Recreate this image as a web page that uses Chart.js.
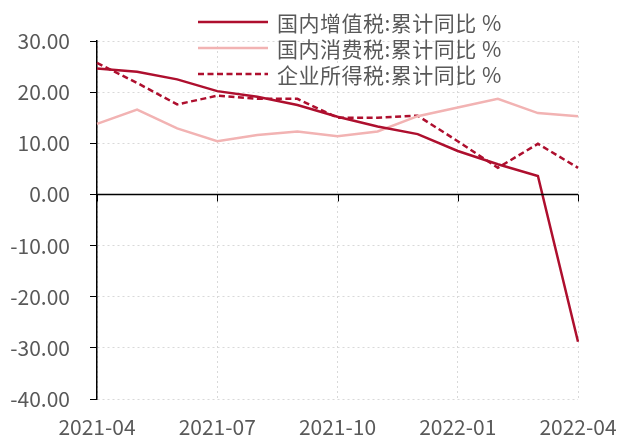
<!DOCTYPE html>
<html>
<head>
<meta charset="utf-8">
<script src="https://cdn.jsdelivr.net/npm/chart.js@4.4.0/dist/chart.umd.min.js"></script>
<style>
  html, body { margin: 0; padding: 0; background: #fff; overflow: hidden; }
  #wrap { position: relative; width: 619px; height: 439px; }
  #legend { position: absolute; left: 0; top: 0; width: 619px; height: 100px; pointer-events: none; }
  .lg { position: absolute; left: 198px; height: 26px; display: flex; align-items: center;
        font-family: "Noto Sans CJK SC", sans-serif; font-size: 21px; letter-spacing: 0.5px; color: #595959; white-space: nowrap; }
  .lg svg { margin-right: 9px; }
</style>
</head>
<body>
<div id="wrap">
  <canvas id="c" width="619" height="439"></canvas>
  <div id="legend"></div>
</div>
<script>
const categories = ['2021-04','2021-05','2021-06','2021-07','2021-08','2021-09','2021-10','2021-11','2021-12','2022-01','2022-02','2022-03','2022-04'];
const seriesNames = ['国内增值税:累计同比 %', '国内消费税:累计同比 %', '企业所得税:累计同比 %'];
const vatValues = [24.6, 24.0, 22.5, 20.2, 19.1, 17.5, 15.2, 13.3, 11.8, 8.5, 5.9, 3.6, -28.8];
const consumptionValues = [13.8, 16.6, 12.9, 10.4, 11.6, 12.3, 11.4, 12.3, 15.3, 17.0, 18.7, 15.9, 15.3];
const corporateValues = [25.7, 21.8, 17.6, 19.3, 18.7, 18.7, 15.0, 15.0, 15.4, 10.4, 5.2, 9.9, 5.2];
const yTicks = [30, 20, 10, 0, -10, -20, -30, -40];

const darkRed = '#AE0F2E';
const pink = '#F2B3B3';
const styles = [
  { color: darkRed, width: 2.5, dash: [] },
  { color: pink, width: 2.5, dash: [] },
  { color: darkRed, width: 2.5, dash: [6, 3.5] }
];
const seriesValues = [vatValues, consumptionValues, corporateValues];

const FONT = '"Noto Sans CJK SC", sans-serif';

const zeroLinePlugin = {
  id: 'zeroLine',
  afterDatasetsDraw(chart) {
    const { ctx, chartArea, scales } = chart;
    const y0 = scales.y.getPixelForValue(0);
    ctx.save();
    ctx.strokeStyle = '#000';
    ctx.lineWidth = 1.5;
    ctx.beginPath();
    ctx.moveTo(chartArea.left, y0);
    ctx.lineTo(chartArea.right, y0);
    ctx.stroke();
    ctx.lineWidth = 1;
    for (let i = 0; i < categories.length; i += 3) {
      const x = Math.round(scales.x.getPixelForValue(i)) + 0.5;
      ctx.beginPath();
      ctx.moveTo(x, y0);
      ctx.lineTo(x, y0 + 7);
      ctx.stroke();
    }
    ctx.restore();
  }
};

new Chart(document.getElementById('c'), {
  type: 'line',
  data: {
    labels: categories,
    datasets: seriesNames.map((name, k) => ({
      label: name,
      data: seriesValues[k],
      borderColor: styles[k].color,
      borderWidth: styles[k].width,
      borderDash: styles[k].dash,
      pointRadius: 0,
      tension: 0,
      fill: false
    }))
  },
  options: {
    responsive: false,
    animation: false,
    events: [],
    layout: { padding: { left: 0, right: 41, top: 41, bottom: 0 } },
    plugins: { legend: { display: false }, tooltip: { enabled: false } },
    scales: {
      x: {
        type: 'category',
        offset: false,
        afterFit(scale) { scale.height = 40; scale.paddingRight = 0; scale.paddingLeft = 0; },
        border: { display: false, dash: [2, 3] },
        grid: {
          drawTicks: false,
          color: (c) => (c.index % 3 === 0 ? '#D9D9D9' : 'rgba(0,0,0,0)'),
          lineWidth: 1
        },
        ticks: {
          autoSkip: false,
          maxRotation: 0,
          padding: 15,
          color: '#595959',
          font: { family: FONT, size: 21 },
          callback: function (v, i) { return i % 3 === 0 ? categories[i] : ''; }
        }
      },
      y: {
        min: -40,
        max: 30,
        afterFit(scale) { scale.width = 97; scale.paddingTop = 0; scale.paddingBottom = 0; },
        afterBuildTicks(scale) { scale.ticks = yTicks.map(v => ({ value: v })); },
        border: { display: true, color: '#000', width: 1.5, dash: [2, 3] },
        grid: {
          color: '#D9D9D9',
          lineWidth: 1,
          tickColor: '#000',
          tickLength: 7,
          tickBorderDash: []
        },
        ticks: {
          padding: 20,
          color: '#595959',
          font: { family: FONT, size: 21 },
          callback: (v) => Number(v).toFixed(2)
        }
      }
    }
  },
  plugins: [zeroLinePlugin]
});

// HTML legend built from the series definitions
const legend = document.getElementById('legend');
const rowTops = [9, 35, 61];
seriesNames.forEach((name, k) => {
  const row = document.createElement('div');
  row.className = 'lg';
  row.style.top = rowTops[k] + 'px';
  const s = styles[k];
  row.innerHTML = '<svg width="70" height="6"><line x1="0" y1="3" x2="70" y2="3" stroke="' + s.color +
    '" stroke-width="' + s.width + '"' + (s.dash.length ? ' stroke-dasharray="' + s.dash.join(',') + '"' : '') + '/></svg>';
  const t = document.createElement('span');
  t.textContent = name;
  row.appendChild(t);
  legend.appendChild(row);
});
</script>
</body>
</html>
